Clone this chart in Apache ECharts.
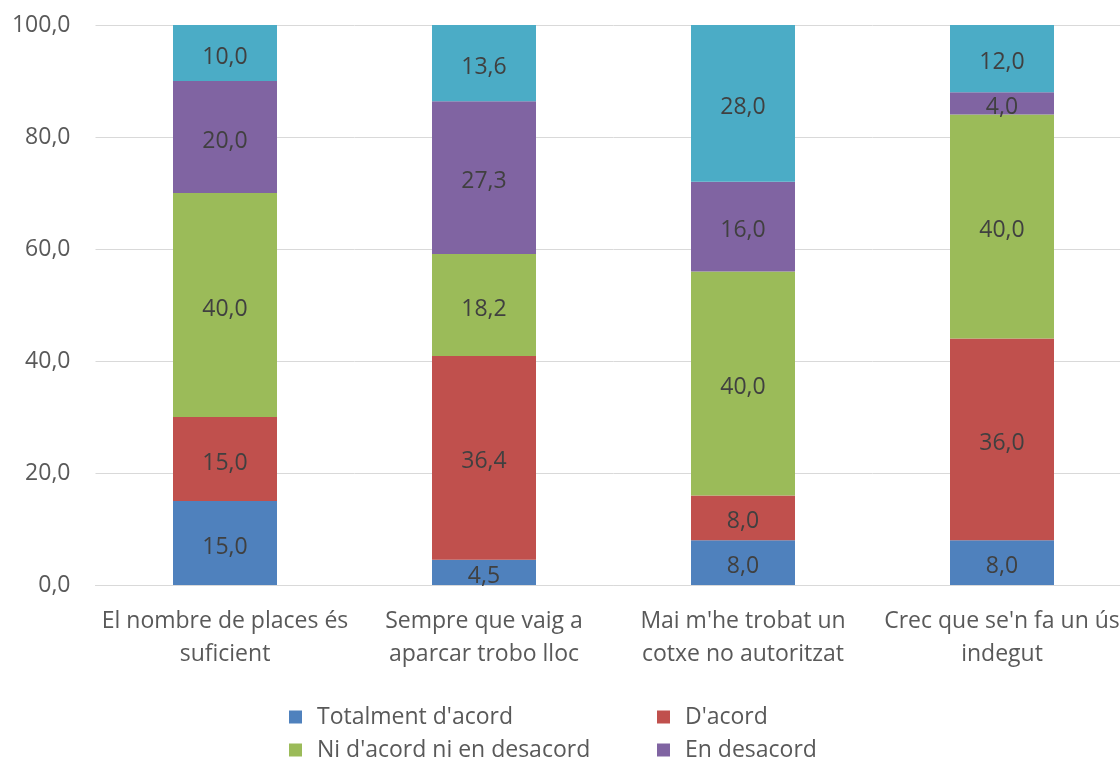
<!DOCTYPE html>
<html>
<head>
<meta charset="utf-8">
<script src="https://cdn.jsdelivr.net/npm/echarts@6/dist/echarts.min.js"></script>
<style>html,body{margin:0;padding:0;background:#fff;overflow:hidden;width:1120px;height:758px}#c{width:1132px;height:758px}</style>
</head>
<body>
<div id="c"></div>
<script>
const categories = ["El nombre de places és\nsuficient", "Sempre que vaig a\naparcar trobo lloc", "Mai m'he trobat un\ncotxe no autoritzat", "Crec que se'n fa un ús\nindegut"];
const seriesNames = ["Totalment d'acord", "D'acord", "Ni d'acord ni en desacord", "En desacord", "Totalment en desacord"];
const totalmentAcord = [15.0, 4.5, 8.0, 8.0];
const acord = [15.0, 36.4, 8.0, 36.0];
const niAcord = [40.0, 18.2, 40.0, 40.0];
const desacord = [20.0, 27.3, 16.0, 4.0];
const totalmentDesacord = [10.0, 13.6, 28.0, 12.0];
const yTicks = [0, 20, 40, 60, 80, 100];

const colors = ['#4F81BD', '#C0504D', '#9BBB59', '#8064A2', '#4BACC6'];
const values = [totalmentAcord, acord, niAcord, desacord, totalmentDesacord];
const fmt = v => Number(v).toFixed(1).replace('.', ',');
const font = '"Open Sans", "Noto Sans", sans-serif';

const legendPos = [
  { name: seriesNames[0], left: 289, top: 704 },
  { name: seriesNames[1], left: 657, top: 704 },
  { name: seriesNames[2], left: 289, top: 737 },
  { name: seriesNames[3], left: 657, top: 737 }
];

const chart = echarts.init(document.getElementById('c'));
chart.setOption({
  animation: false,
  textStyle: { fontFamily: font },
  grid: { left: 95.5, top: 25, right: 0.5, height: 560, containLabel: false },
  xAxis: {
    type: 'category', data: categories,
    axisLine: { show: true, lineStyle: { color: '#d9d9d9', width: 1 } },
    axisTick: { show: false },
    axisLabel: { color: '#595959', fontSize: 23, fontFamily: font, lineHeight: 33, margin: 20, interval: 0 }
  },
  yAxis: {
    type: 'value', min: yTicks[0], max: yTicks[yTicks.length - 1], interval: 20,
    axisLine: { show: false }, axisTick: { show: false },
    splitLine: { lineStyle: { color: '#d9d9d9', width: 1 } },
    axisLabel: { color: '#595959', fontSize: 23, fontFamily: font, margin: 25, padding: [4, 0, 0, 0], formatter: v => fmt(v) }
  },
  legend: legendPos.map(l => ({
    left: l.left, top: l.top, padding: 0, itemWidth: 13, itemHeight: 13, icon: 'rect',
    data: [l.name], selectedMode: false,
    textStyle: { color: '#595959', fontSize: 23, fontFamily: font, lineHeight: 26, padding: [0, 0, 0, 10] }
  })),
  series: seriesNames.map((name, i) => ({
    name, type: 'bar', stack: 'total', data: values[i], barWidth: 104,
    itemStyle: { color: colors[i] },
    label: { show: true, position: 'inside', offset: [0, 4], color: '#404040', fontSize: 23, fontFamily: font, formatter: p => fmt(p.value) }
  }))
});
</script>
</body>
</html>
